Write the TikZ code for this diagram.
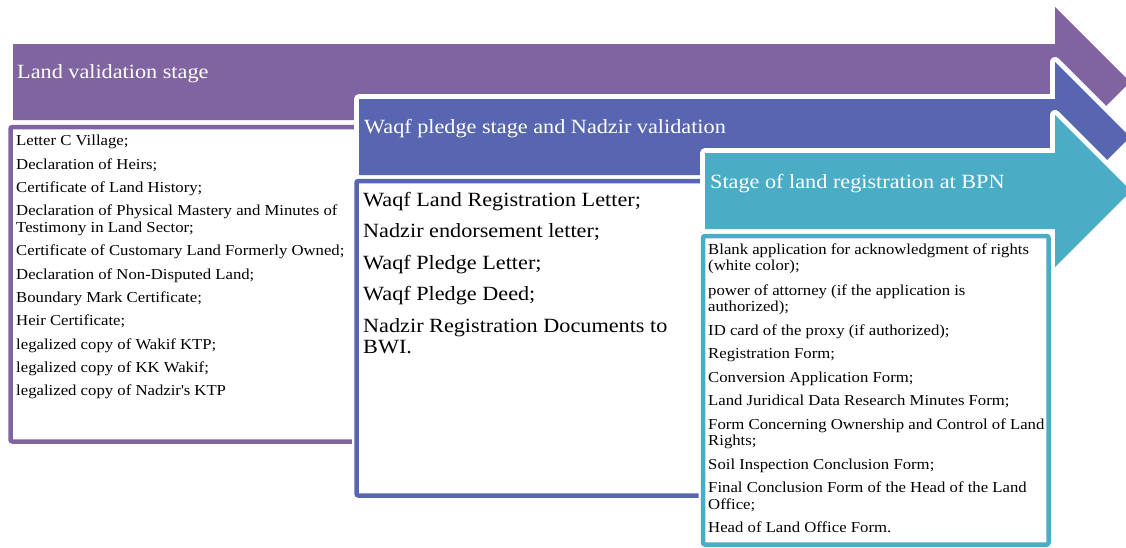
\documentclass[tikz,border=0pt]{standalone}
\usepackage{fontspec}
\setmainfont{Liberation Serif}[FakeStretch=1.10]
\definecolor{cPurple}{RGB}{128,100,162}
\definecolor{cBlue}{RGB}{88,102,178}
\definecolor{cTeal}{RGB}{75,172,198}
\tikzset{
  arrowshape/.style={fill=#1, draw=none, preaction={draw=white, line width=10pt, line join=round}},
  docbox/.style={fill=white, draw=#1, line width=4.5pt, rounded corners=2pt,
     preaction={draw=white, line width=9pt, rounded corners=2pt}},
  stagelbl/.style={anchor=base west, inner sep=0pt, text=white, font=\fontsize{20.2}{22}\selectfont},
  smallitem/.style={anchor=base west, inner sep=0pt, text=black, font=\fontsize{15.2}{16}\selectfont},
  bigitem/.style={anchor=base west, inner sep=0pt, text=black, font=\fontsize{20.2}{22}\selectfont}
}
\begin{document}
\begin{tikzpicture}[x=1pt,y=-1pt]
\useasboundingbox (0,0) rectangle (1126,547);
\clip (0,0) rectangle (1126,547);
% stage 1
\path[arrowshape=cPurple] (13,44) -- (1055,44) -- (1055,7) -- (1130,82) -- (1055,157) -- (1055,120) -- (13,120) -- cycle;
\node[stagelbl] (s1) at (17,78) {Land validation stage};
\draw[docbox=cPurple] (10.5,127) rectangle (357,441.5);
\foreach \txt/\yy [count=\i] in {
  {Letter C Village;}/145.7,
  {Declaration of Heirs;}/169,
  {Certificate of Land History;}/192.3,
  {Declaration of Physical Mastery and Minutes of}/215.7,
  {Testimony in Land Sector;}/232.3,
  {Certificate of Customary Land Formerly Owned;}/255.7,
  {Declaration of Non-Disputed Land;}/279,
  {Boundary Mark Certificate;}/302.3,
  {Heir Certificate;}/325.7,
  {legalized copy of Wakif KTP;}/349,
  {legalized copy of KK Wakif;}/372.3,
  {legalized copy of Nadzir\textquotesingle s KTP}/395.7}
  {\node[smallitem] (a\i) at (16,\yy) {\txt};}
% stage 2
\path[arrowshape=cBlue] (359,99) -- (1055,99) -- (1055,62) -- (1130,137) -- (1055,212) -- (1055,175) -- (359,175) -- cycle;
\node[stagelbl] (s2) at (364,133) {Waqf pledge stage and Nadzir validation};
\draw[docbox=cBlue] (356.5,181) rectangle (703,495.5);
\foreach \txt/\yy [count=\i] in {
  {Waqf Land Registration Letter;}/206.5,
  {Nadzir endorsement letter;}/237.5,
  {Waqf Pledge Letter;}/269,
  {Waqf Pledge Deed;}/300.5,
  {Nadzir Registration Documents to}/332,
  {BWI.}/353.5}
  {\node[bigitem] (b\i) at (363,\yy) {\txt};}
% stage 3
\path[arrowshape=cTeal] (705,153) -- (1055,153) -- (1055,115) -- (1131,191) -- (1055,267) -- (1055,229) -- (705,229) -- cycle;
\node[stagelbl] (s3) at (710,188) {Stage of land registration at BPN};
\draw[docbox=cTeal] (703,236) rectangle (1048.5,544.5);
\foreach \txt/\yy [count=\i] in {
  {Blank application for acknowledgment of rights}/254,
  {(white color);}/270.7,
  {power of attorney (if the application is}/295.7,
  {authorized);}/311.7,
  {ID card of the proxy (if authorized);}/335,
  {Registration Form;}/358.3,
  {Conversion Application Form;}/382.3,
  {Land Juridical Data Research Minutes Form;}/405.7,
  {Form Concerning Ownership and Control of Land}/429,
  {Rights;}/445.7,
  {Soil Inspection Conclusion Form;}/469,
  {Final Conclusion Form of the Head of the Land}/492,
  {Office;}/509,
  {Head of Land Office Form.}/532.8}
  {\node[smallitem] (c\i) at (708,\yy) {\txt};}
\end{tikzpicture}
\end{document}
